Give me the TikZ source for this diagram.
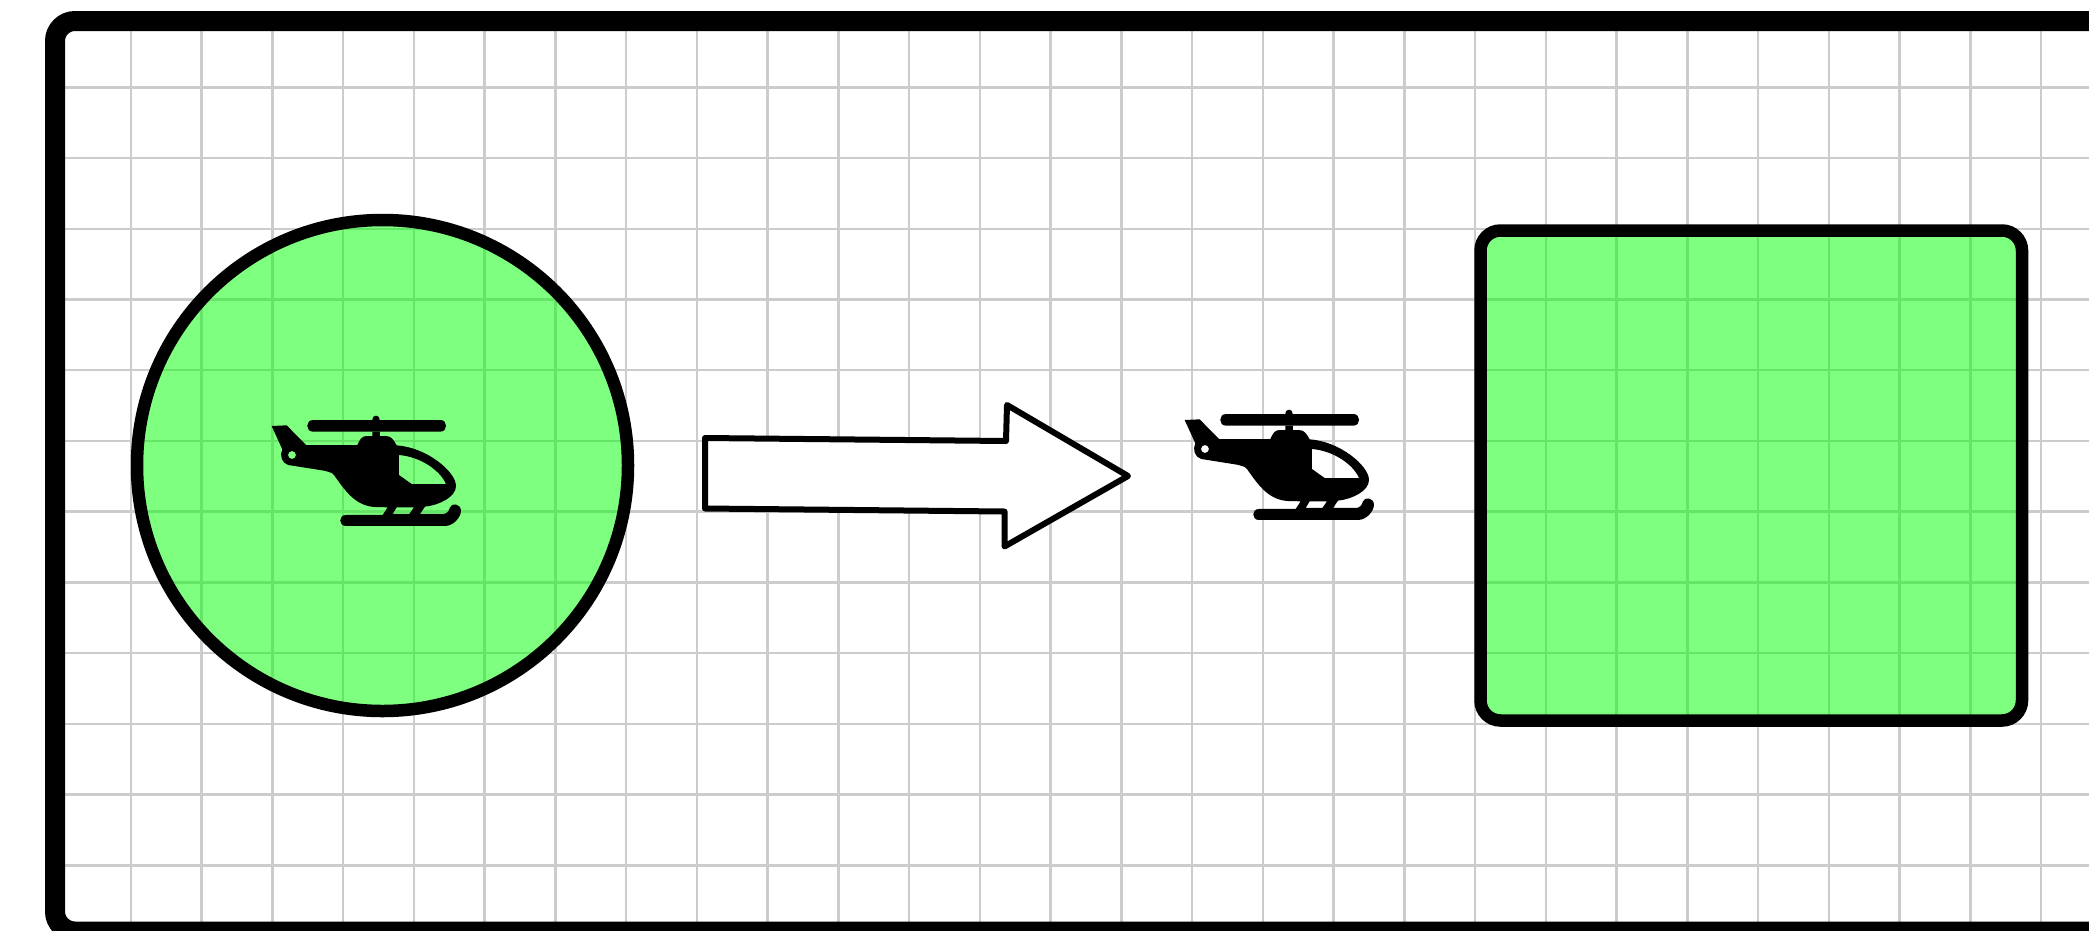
\documentclass[tikz,border=0pt]{standalone}
\definecolor{gridgray}{HTML}{CCCCCC}
\tikzset{
  px/.style={x=1pt,y=-1pt},
  gridline/.style={draw=gridgray,line width=2.5pt},
  heavy/.style={draw=black,line width=12.5pt},
  greenfill/.style={fill=green,fill opacity=0.5,draw opacity=1},
  pics/heli/.style={code={
    \fill[black,even odd rule,x=0.3333pt,y=-0.3333pt]
      (65,78) -- (110,76) -- (168,135) -- (322,135)
      .. controls (330,118) and (335,108) .. (350,108) -- (367,108) -- (367,95) -- (390,95) -- (390,108) -- (408,108)
      .. controls (425,108) and (432,122) .. (440,136)
      .. controls (530,142) and (618,215) .. (618,258)
      .. controls (618,290) and (570,315) .. (525,320)
      -- (510,342) -- (578,342)
      .. controls (590,342) and (596,335) .. (600,322)
      .. controls (605,308) and (632,310) .. (633,332)
      .. controls (633,352) and (610,378) .. (585,378)
      -- (288,378) .. controls (265,378) and (265,345) .. (288,345)
      -- (398,345) -- (413,322) -- (375,321)
      .. controls (320,318) and (290,280) .. (252,225)
      .. controls (245,216) and (232,215) .. (222,212)
      -- (115,195) .. controls (95,190) and (88,165) .. (97,148) -- cycle
      (440,322) -- (492,322) -- (478,342) -- (428,342) -- cycle
      (447,165) .. controls (510,170) and (570,210) .. (588,252)
      -- (485,252) -- (447,225) -- cycle
      (126,165) circle[radius=12];
    \fill[black,x=0.3333pt,y=-0.3333pt]
      (189,60) -- (571,60) .. controls (594,60) and (594,95) .. (571,95)
      -- (189,95) .. controls (166,95) and (166,60) .. (189,60) -- cycle;
    \fill[black,x=0.3333pt,y=-0.3333pt] (378,58) circle[radius=11];
  }}
}
\begin{document}
\begin{tikzpicture}[px]
\useasboundingbox (0,0) rectangle (2089,930);
\clip (0,0) rectangle (2089,930);
\fill[white] (0,0) rectangle (2089,930);
% grid
\foreach \i in {0,...,27} {
  \draw[gridline] ({131+70.74*\i},21) -- ({131+70.74*\i},930);
}
\foreach \j in {0,...,11} {
  \draw[gridline] (55,{87.3+70.73*\j}) -- (2089,{87.3+70.73*\j});
}
% frame
\draw[draw=black,line width=20pt,rounded corners=20pt] (2140,21) -- (55,21) -- (55,931.5) -- (2140,931.5);
% circle
\path[greenfill] (382.5,465.5) circle[radius=245.5];
\draw[heavy] (382.5,465.5) circle[radius=245.5];
% rectangle
\path[greenfill,rounded corners=20pt] (1480.5,230.5) rectangle (2022,720.5);
\draw[heavy,rounded corners=20pt] (1480.5,230.5) rectangle (2022,720.5);
% arrow
\draw[draw=black,fill=white,line width=6pt,line join=round]
  (705,438) -- (1006,441) -- (1007,405) -- (1128,476) -- (1004.5,546.5) -- (1004.5,511.5) -- (705,508.5) -- cycle;
% helicopters
\pic at (250,400) {heli};
\pic at (1163,394) {heli};
\end{tikzpicture}
\end{document}
